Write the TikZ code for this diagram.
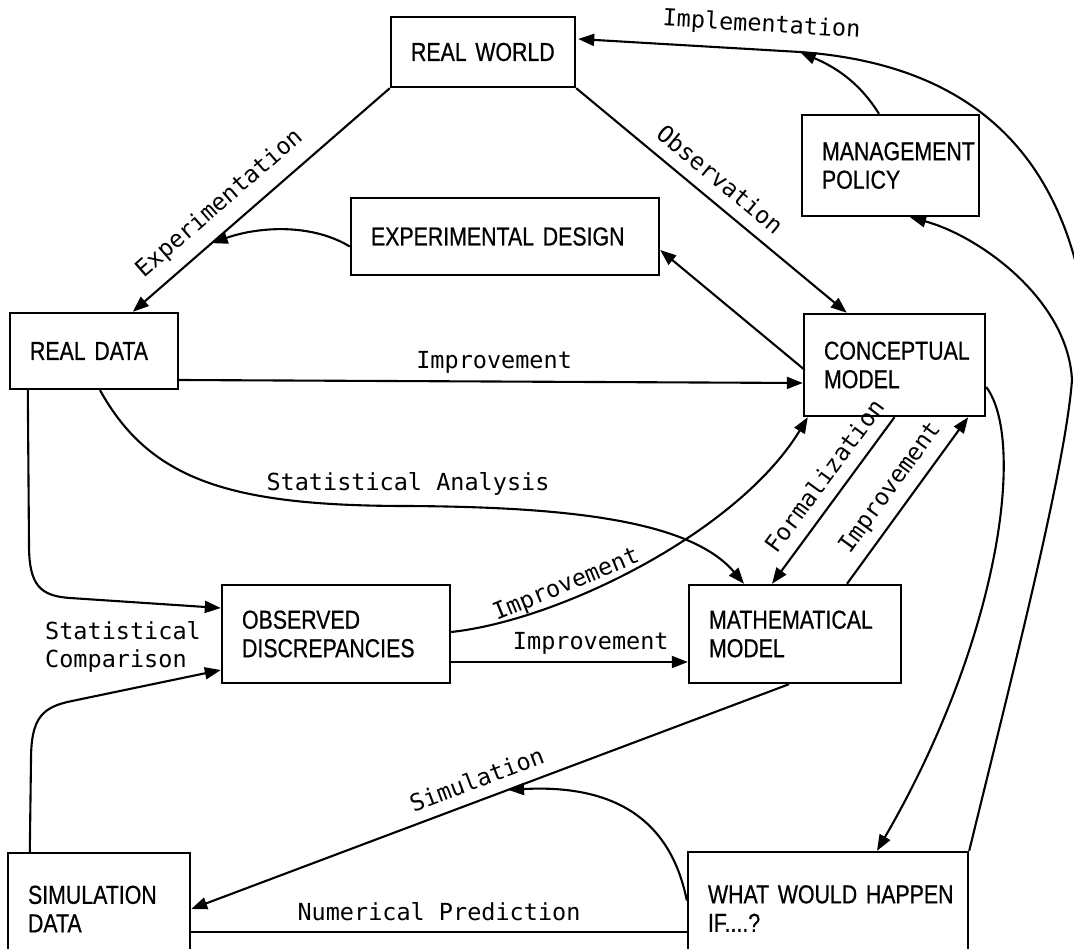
\documentclass[tikz,border=0pt]{standalone}
\usepackage{fontspec}
\usetikzlibrary{arrows.meta,calc}
\newfontfamily\boxfont[FakeStretch=0.82,FakeBold=0.6]{Liberation Sans}
\newfontfamily\lblfont{DejaVu Sans Mono}

\begin{document}
\begin{tikzpicture}[x=1pt, y=-1pt,
  box/.style={draw, line width=2.4pt, inner xsep=20pt, inner ysep=0pt, align=left,
    font=\boxfont\fontsize{26}{28.5}\selectfont},
  conn/.style={line width=2.1pt},
  arr/.style={conn, -{Triangle[length=16pt,width=12pt]}},
  lbl/.style={font=\lblfont\fontsize{23.5}{28}\selectfont, inner sep=2pt},
]
\useasboundingbox (0,0) rectangle (1074,949);
\clip (0,0) rectangle (1074,949);

% boxes
\node[box, text width=144pt, minimum height=70pt]  (RW) at (483,52)      {REAL WORLD};
\node[box, text width=137pt, minimum height=101pt] (MP) at (890.5,165.5) {MANAGEMENT\\POLICY};
\node[box, text width=268pt, minimum height=77pt]  (ED) at (505,236.5)   {\mbox{EXPERIMENTAL DESIGN}};
\node[box, text width=128pt, minimum height=76pt]  (RD) at (94,351)      {\mbox{REAL DATA}};
\node[box, text width=141pt, minimum height=102pt] (CM) at (894.5,365)   {CONCEPTUAL\\MODEL};
\node[box, text width=188pt, minimum height=98pt]  (OD) at (336,634)     {OBSERVED\\DISCREPANCIES};
\node[box, text width=172pt, minimum height=98pt]  (MM) at (795,634)     {MATHEMATICAL\\MODEL};
\node[box, text width=142pt, minimum height=112pt] (SD) at (99,909)      {SIMULATION\\DATA};
\node[box, text width=240pt, minimum height=113pt] (WH) at (828,908.5)   {\mbox{WHAT WOULD HAPPEN}\\IF....?};

% waypoints
\coordinate (offr)  at (1082,290);
\coordinate (impj)  at (800,52);
\coordinate (rbend) at (1072,380);
\coordinate (sabend) at (408,506);

% real world -> real data
\draw[arr] (RW.south west) -- node[lbl, sloped, above=10pt, pos=0.6] {Experimentation}
  coordinate[pos=0.693] (expin) ($(RD.north west)+(124,0)$);
% real world -> conceptual model
\draw[arr] (RW.south east) -- node[lbl, sloped, above=10pt, pos=0.48] {Observation}
  ($(CM.north west)+(44,0)$);
% conceptual model -> experimental design
\draw[arr] ($(CM.west)+(2,5)$) -- ($(ED.east)+(0,13.5)$);
% experimental design -> experimentation
\draw[arr] ($(ED.west)+(0,10)$) .. controls +(-40,-24) and +(45,-16) .. (expin);
% real data -> conceptual model
\draw[arr] ($(RD.east)+(0,29)$) -- node[lbl, above=5pt, pos=0.505] {Improvement}
  ($(CM.west)+(0,18)$);
% real data -> mathematical model
\draw[arr] ($(RD.south)+(6,0)$) .. controls +(50,90) and +(-178,0) .. (sabend)
  node[lbl, above=8pt] {Statistical Analysis}
  .. controls +(152,1) and +(-55,-65) .. ($(MM.north)+(-51,0)$);
% real data -> observed discrepancies
\draw[arr] ($(RD.south west)+(19,0)$) -- (29,545) .. controls +(0,40) and +(-30,-2) .. (70,598)
  -- ($(OD.west)+(0,-26)$);
\node[lbl, align=left, anchor=west] (sc) at (43,647) {Statistical\\Comparison};
% simulation data -> observed discrepancies
\draw[arr] ($(SD.north west)+(23,0)$) -- (31,760) .. controls +(0,-42) and +(-30,6) .. (72,701)
  -- ($(OD.west)+(0,36)$);
% observed discrepancies -> conceptual model
\draw[arr] ($(OD.east)+(0,-2)$) .. controls +(110,-12) and +(-69,114) ..
  node[lbl, sloped, above, pos=0.32] {Improvement} ($(CM.south west)+(5,0)$);
% observed discrepancies -> mathematical model
\draw[arr] ($(OD.east)+(0,28)$) -- node[lbl, above=5pt, pos=0.59] {Improvement}
  ($(MM.west)+(0,28)$);
% conceptual model <-> mathematical model
\draw[arr] (CM.south) -- node[lbl, sloped, above=10pt, pos=0.43] {Formalization}
  ($(MM.north)+(-23,0)$);
\draw[arr] ($(MM.north)+(52,0)$) -- node[lbl, sloped, above=7pt, pos=0.5] {Improvement}
  ($(CM.south east)+(-18,0)$);
% mathematical model -> simulation data
\draw[arr] ($(MM.south)+(-6,0)$) -- node[lbl, sloped, above=9pt, pos=0.51] {Simulation}
  coordinate[pos=0.47] (simin) (SD.east);
% what would happen -> simulation
\draw[arr] ($(WH.west)+(0,-8)$) .. controls +(-18,-90) and +(95,-5) .. (simin);
% what would happen -> simulation data
\draw[conn] ($(WH.west)+(0,23.5)$) -- node[lbl, above=8.5pt] {Numerical Prediction}
  ($(SD.east)+(0,23)$);
% conceptual model -> what would happen
\draw[arr] ($(CM.east)+(0,22)$) .. controls +(40,53) and +(123,-212) .. ($(WH.north)+(49,0)$);
% what would happen -> management policy
\draw[arr] (WH.north east) .. controls +(42,-172) and +(-7,90) .. (rbend)
  .. controls +(-4,-80) and +(70,19) .. ($(MP.south)+(19.5,0)$);
% implementation
\draw[arr] (offr) .. controls (1050,125) and (940,62) .. (impj)
  -- node[lbl, sloped, above=10pt, pos=0.18] {Implementation} ($(RW.east)+(2,-13)$);
\draw[arr] ($(MP.north)+(-11.5,0)$) .. controls +(-20,-32) and +(35,15) .. (impj);
\end{tikzpicture}
\end{document}
